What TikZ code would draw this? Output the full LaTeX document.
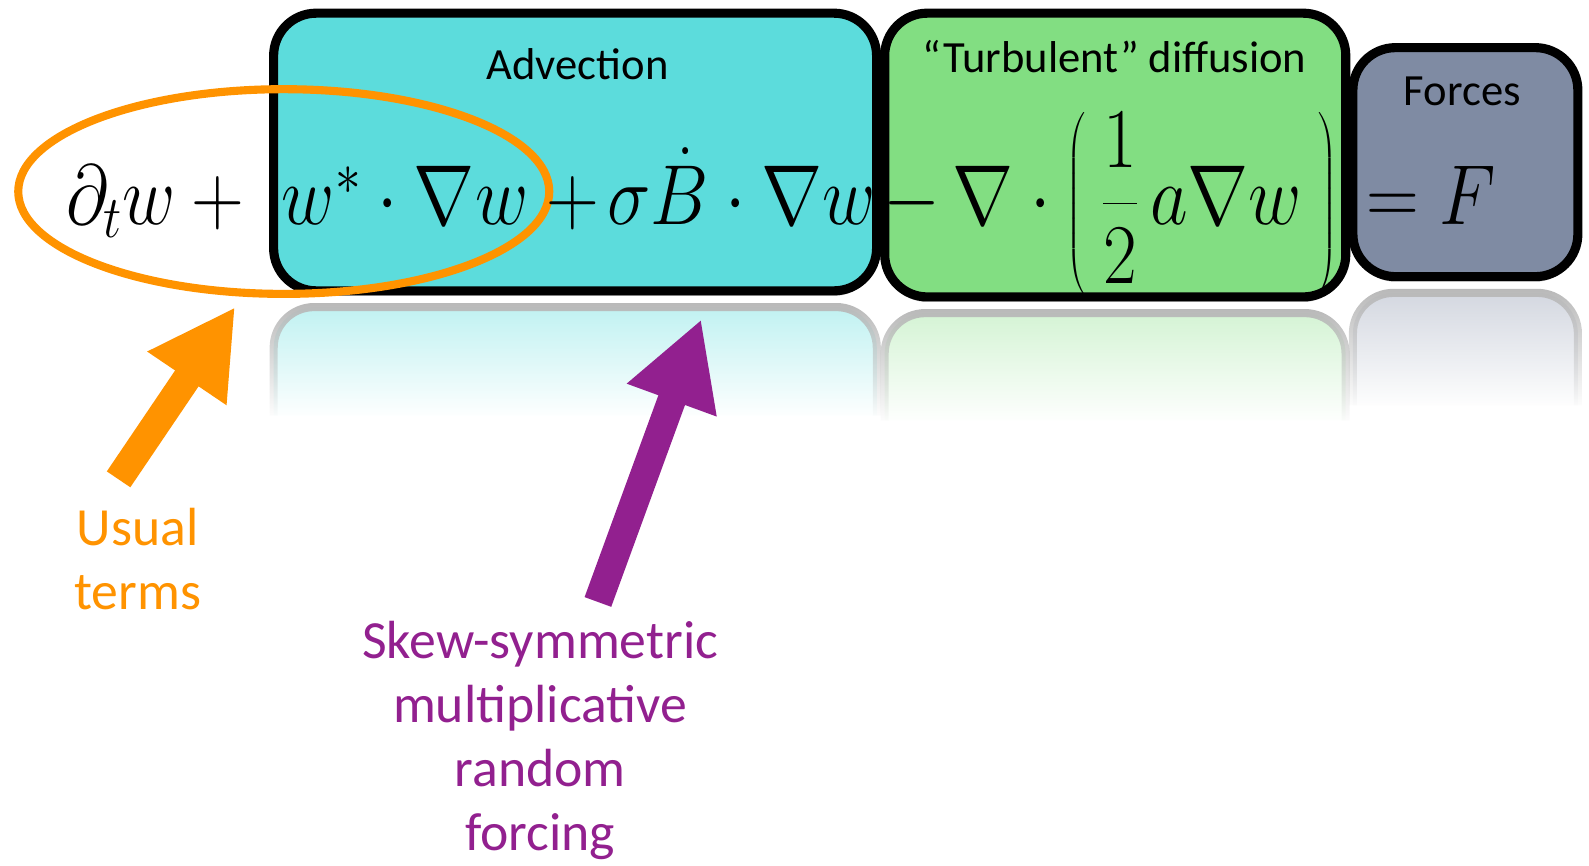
\RequirePackage{fix-cm}
\documentclass[tikz,border=0pt]{standalone}
\usepackage{amsmath}
\usepackage{graphicx}
\usepackage{fontspec}
\newfontfamily\calibri{Carlito}
\usetikzlibrary{arrows.meta,fadings,shadows}
\definecolor{advcol}{HTML}{5CDCDC}
\definecolor{diffcol}{HTML}{82DE82}
\definecolor{forccol}{HTML}{7F8BA3}
\definecolor{usualcol}{HTML}{FF9300}
\definecolor{skewcol}{HTML}{92208F}
\newcommand{\eqpart}[1]{\scalebox{0.86}[1]{$#1$}}
\begin{document}
\begin{tikzpicture}[x=1pt,y=1pt,
    termbox/.style={draw=black, line width=9pt, rounded corners=42pt, inner sep=0pt,
      drop shadow={opacity=0.45, shadow xshift=0pt, shadow yshift=-5pt}},
    mirror/.style={draw=gray!55, line width=8pt, rounded corners=40pt, path fading=south},
    boxtitle/.style={font=\calibri\fontsize{44}{50}\selectfont, anchor=base, inner sep=0pt},
    eqn/.style={font=\fontsize{84}{90}\selectfont, anchor=base west, inner sep=0pt},
    note/.style={font=\calibri\fontsize{53}{63}\selectfont, align=center, anchor=north, inner sep=0pt},
    bigarrow/.style={line width=28pt, line cap=butt, -{Triangle[length=85pt,width=88pt]}}]
  \useasboundingbox (0,0) rectangle (1568,-854);
  % Reflections under the boxes
  \path[mirror, fill=advcol!40] (270,-410) -- (270,-303) -- (865,-303) -- (865,-410);
  \path[mirror, fill=diffcol!35] (873,-415) -- (873,-309) -- (1328,-309) -- (1328,-415);
  \path[mirror, fill=forccol!35] (1335,-400) -- (1335,-289) -- (1557,-289) -- (1557,-400);
  % Term boxes
  \node[termbox, fill=advcol, minimum width=595pt, minimum height=274pt] (adv) at (567.5,-150) {};
  \node[termbox, fill=diffcol, minimum width=455pt, minimum height=280pt] (diff) at (1100.5,-153) {};
  \node[termbox, fill=forccol, minimum width=222pt, minimum height=226pt] (forc) at (1446,-160) {};
  % Usual terms ring
  \draw[usualcol, line width=8pt] (280,-189) ellipse [x radius=262pt, y radius=101pt];
  % Equation
  \node[eqn] (dtw) at (65,-222) {\eqpart{\partial_t w + {}}};
  \node[eqn] (wstar) at (278,-222) {\eqpart{w^* \cdot \nabla w}};
  \node[eqn] (sigb) at (539,-222) {\eqpart{+\mkern2mu\sigma\dot{B} \cdot \nabla w}};
  \node[eqn] (grad) at (872,-222) {\eqpart{-\,\nabla \cdot \left(\mkern4mu\dfrac{1}{2}\,a\nabla w\mkern4mu\right)}};
  \node[eqn] (rhs) at (1348,-222) {\eqpart{= F}};
  % Box titles
  \node[boxtitle] (advtitle) at (570,-78) {Advection};
  \node[boxtitle] (difftitle) at (1100,-72) {“Turbulent” diffusion};
  \node[boxtitle] (forctitle) at (1443,-104) {Forces};
  % Arrows and notes
  \coordinate (usualtip) at (232,-303);
  \coordinate (usualtail) at (117,-473);
  \coordinate (skewtip) at (692,-315);
  \coordinate (skewtail) at (590,-594);
  \draw[bigarrow, usualcol] (usualtail) -- (usualtip);
  \draw[bigarrow, skewcol] (skewtail) -- (skewtip);
  \node[note, text=usualcol] (usual) at (136,-501) {Usual\\terms};
  \node[note, text=skewcol] (skew) at (533,-613) {Skew-symmetric\\multiplicative\\random\\forcing};
\end{tikzpicture}
\end{document}
